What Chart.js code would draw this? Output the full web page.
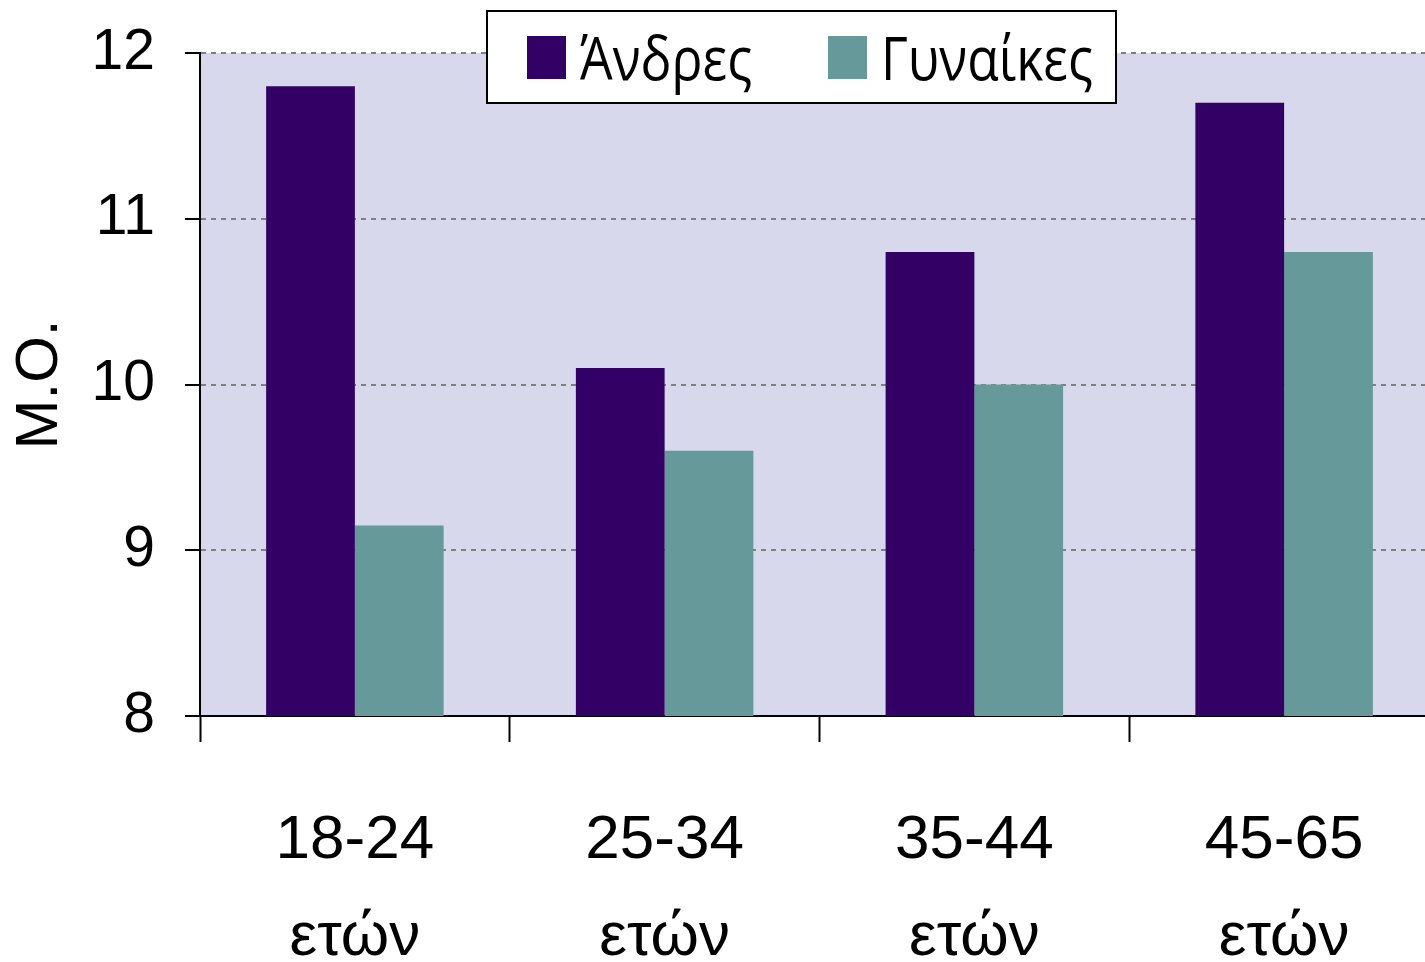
<!DOCTYPE html>
<html>
<head>
<meta charset="utf-8">
<script src="https://cdn.jsdelivr.net/npm/chart.js@4.4.1/dist/chart.umd.min.js"></script>
<style>
  html, body { margin: 0; padding: 0; background: #ffffff; overflow: hidden; }
  #wrap { position: relative; width: 1425px; height: 962px; overflow: hidden; }
  #c { position: absolute; left: 0; top: 0; }
  #legend {
    position: absolute; left: 486px; top: 10px; width: 627px; height: 90px;
    border: 2px solid #000; background: #fff; box-sizing: content-box;
    font-family: "Open Sans", "Noto Sans", sans-serif; font-size: 60px; color: #000;
  }
  .item { position: absolute; top: 0; height: 90px; display: flex; align-items: center; }
  .sw { width: 39px; height: 43px; margin-right: 14px; }
  .lbl { display: inline-block; transform: scaleX(0.86); transform-origin: left center; white-space: nowrap; }
</style>
</head>
<body>
<div id="wrap">
  <canvas id="c" width="1439" height="962"></canvas>
  <div id="legend"></div>
</div>
<script>
const categories = [["18-24", "ετών"], ["25-34", "ετών"], ["35-44", "ετών"], ["45-65", "ετών"]];
const seriesNames = ["Άνδρες", "Γυναίκες"];
const menValues = [11.8, 10.1, 10.8, 11.7];
const womenValues = [9.15, 9.6, 10.0, 10.8];
const seriesColors = ["#330066", "#669999"];
const yTicks = [8, 9, 10, 11, 12];
const yTitle = "Μ.Ο.";

const bgPlugin = {
  id: 'plotBg',
  beforeDraw(chart) {
    const { ctx, chartArea: a } = chart;
    ctx.save();
    ctx.fillStyle = '#D8D8EC';
    ctx.fillRect(a.left, a.top, a.right - a.left, a.bottom - a.top);
    ctx.restore();
  }
};

const chart = new Chart(document.getElementById('c'), {
  type: 'bar',
  data: {
    labels: categories,
    datasets: [
      { label: seriesNames[0], data: menValues, backgroundColor: seriesColors[0] },
      { label: seriesNames[1], data: womenValues, backgroundColor: seriesColors[1] }
    ]
  },
  options: {
    responsive: false,
    animation: false,
    devicePixelRatio: 1,
    layout: { padding: { top: 53, right: 0, bottom: 0, left: 0 } },
    plugins: { legend: { display: false }, tooltip: { enabled: false } },
    datasets: { bar: { categoryPercentage: 0.573, barPercentage: 1.0 } },
    scales: {
      x: {
        afterFit(s) { s.height = 246; s.paddingLeft = 0; s.paddingRight = 0; },
        grid: { display: true, offset: true, drawOnChartArea: false, drawTicks: true,
                tickLength: 26, tickColor: '#000', tickWidth: 2, tickBorderDash: [] },
        border: { display: true, color: '#000', width: 2 },
        ticks: { color: '#000', padding: 50, maxRotation: 0, autoSkip: false,
                 font: { family: '"Liberation Sans", Arial, sans-serif', size: 62, lineHeight: 1.57 } }
      },
      y: {
        min: 8, max: 12,
        afterFit(s) { s.width = 200; s.paddingTop = 0; s.paddingBottom = 0; },
        afterBuildTicks(s) { s.ticks = yTicks.map(v => ({ value: v })); },
        grid: {
          color: (c) => (c.tick && c.tick.value === 8) ? 'rgba(0,0,0,0)' : '#808080',
          lineWidth: 2, drawTicks: true, tickLength: 15, tickColor: '#000', tickWidth: 2, tickBorderDash: []
        },
        border: { display: true, color: '#000', width: 2, dash: [5, 5] },
        ticks: { color: '#000', padding: 30,
                 font: { family: '"Liberation Sans", Arial, sans-serif', size: 57 } },
        title: { display: true, text: yTitle, color: '#000', padding: { top: 4, bottom: 0 },
                 font: { family: '"Liberation Sans", Arial, sans-serif', size: 60, lineHeight: 1.2 } }
      }
    }
  },
  plugins: [bgPlugin]
});

// HTML legend built from the datasets
const legend = document.getElementById('legend');
const itemLefts = [39, 340];
chart.data.datasets.forEach((ds, i) => {
  const it = document.createElement('div');
  it.className = 'item';
  it.style.left = itemLefts[i] + 'px';
  const sw = document.createElement('span');
  sw.className = 'sw';
  sw.style.background = ds.backgroundColor;
  const lb = document.createElement('span');
  lb.className = 'lbl';
  lb.textContent = ds.label;
  it.appendChild(sw); it.appendChild(lb);
  legend.appendChild(it);
});
</script>
</body>
</html>
